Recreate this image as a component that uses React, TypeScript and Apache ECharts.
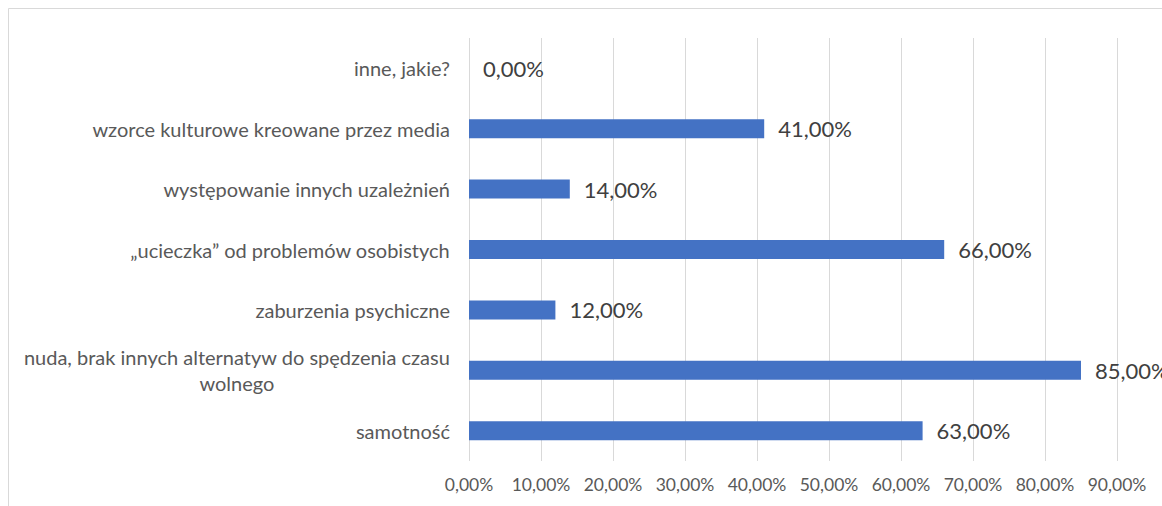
import React, { useEffect, useRef } from "react";
import * as echarts from "echarts";

const categories = [
  "samotność",
  "nuda, brak innych alternatyw do spędzenia czasu wolnego",
  "zaburzenia psychiczne",
  "„ucieczka” od problemów osobistych",
  "występowanie innych uzależnień",
  "wzorce kulturowe kreowane przez media",
  "inne, jakie?",
];
const values = [63, 85, 12, 66, 14, 41, 0];
const axisMin = 0;
const axisMax = 90;
const axisStep = 10;

const fmtPct = (v: number) => v.toFixed(2).replace(".", ",") + "%";

function wrap(text: string, maxChars: number): string[] {
  const words = text.split(" ");
  const lines: string[] = [];
  let cur = "";
  for (const w of words) {
    const next = cur ? cur + " " + w : w;
    if (next.length > maxChars && cur) {
      lines.push(cur);
      cur = w;
    } else {
      cur = next;
    }
  }
  if (cur) lines.push(cur);
  return lines;
}

export default function App() {
  const ref = useRef<HTMLDivElement>(null);
  useEffect(() => {
    if (!ref.current) return;
    const chart = echarts.init(ref.current, null, { renderer: "svg" });
    chart.setOption({
      animation: false,
      backgroundColor: "#ffffff",
      textStyle: { fontFamily: "Lato" },
      graphic: [
        {
          type: "rect",
          shape: { x: 8.5, y: 8.5, width: 1300, height: 700 },
          style: { fill: "none", stroke: "#d9d9d9", lineWidth: 1 },
          silent: true,
        },
      ],
      grid: { left: 469, right: 45, top: 38, bottom: 45, containLabel: false },
      xAxis: {
        type: "value",
        min: axisMin,
        max: axisMax,
        interval: axisStep,
        axisLine: { show: false },
        axisTick: { show: false },
        splitLine: { show: true, lineStyle: { color: "#d9d9d9", width: 1 } },
        axisLabel: {
          formatter: (v: number) => fmtPct(v),
          color: "#595959",
          fontSize: 17.5,
          fontFamily: "Lato",
          margin: 14,
        },
      },
      yAxis: {
        type: "category",
        data: categories,
        axisLine: { show: false },
        axisTick: { show: false },
        splitLine: { show: false },
        axisLabel: {
          margin: 19,
          color: "#595959",
          fontSize: 20,
          fontFamily: "Lato",
          lineHeight: 26,
          formatter: (v: string) =>
            wrap(v, 50)
              .map((l) => "{c|" + l + "}")
              .join("\n"),
          rich: {
            c: {
              align: "center",
              color: "#595959",
              fontSize: 20,
              fontFamily: "Lato",
              lineHeight: 26,
            },
          },
        },
      },
      series: [
        {
          type: "bar",
          data: values,
          barWidth: 19,
          itemStyle: { color: "#4472C4" },
          label: {
            show: true,
            position: "right",
            distance: 14,
            formatter: (p: any) => fmtPct(p.value),
            color: "#404040",
            fontSize: 22,
            fontFamily: "Lato",
          },
        },
      ],
    });
    return () => chart.dispose();
  }, []);
  return (
    <div
      ref={ref}
      style={{ position: "fixed", left: 0, top: 0, width: 1162, height: 506 }}
    />
  );
}
